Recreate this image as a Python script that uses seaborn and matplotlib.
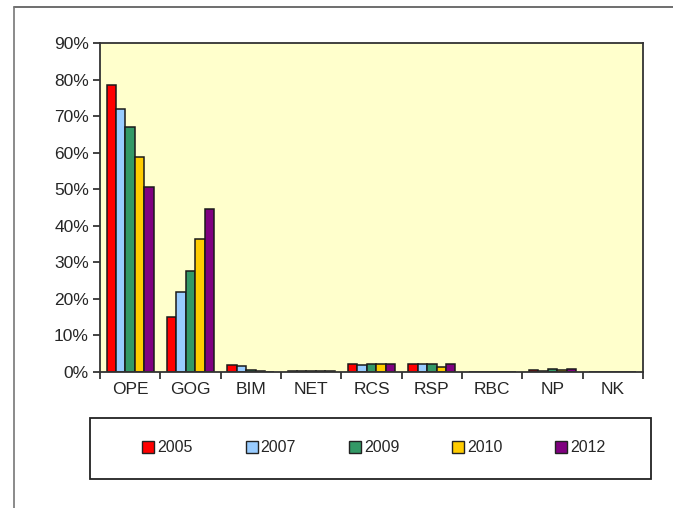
import numpy as np
import pandas as pd
import seaborn as sns
import matplotlib.pyplot as plt
from matplotlib.patches import Patch, Rectangle
from matplotlib.lines import Line2D
from matplotlib.ticker import PercentFormatter, FixedLocator

# Données (en %)
categories = ["OPE", "GOG", "BIM", "NET", "RCS", "RSP", "RBC", "NP", "NK"]
years = ["2005", "2007", "2009", "2010", "2012"]
v2005 = [78.5, 15.1, 1.8, 0.2, 2.1, 2.1, 0.0, 0.5, 0.0]
v2007 = [71.9, 21.8, 1.6, 0.2, 2.0, 2.1, 0.0, 0.4, 0.0]
v2009 = [67.1, 27.7, 0.5, 0.2, 2.1, 2.1, 0.0, 0.8, 0.0]
v2010 = [58.8, 36.5, 0.2, 0.2, 2.1, 1.5, 0.0, 0.5, 0.0]
v2012 = [50.6, 44.6, 0.1, 0.2, 2.1, 2.1, 0.0, 0.8, 0.0]
colors = ["#FF0000", "#99CCFF", "#339966", "#FFCC00", "#800080"]

series = [v2005, v2007, v2009, v2010, v2012]
df = pd.DataFrame({
    "cat": np.tile(categories, len(years)),
    "year": np.repeat(years, len(categories)),
    "val": np.concatenate(series),
})

sns.set_style("white")
plt.rcParams['font.family'] = ['Liberation Sans', 'DejaVu Sans']

fig = plt.figure(figsize=(6.73, 5.08), dpi=100)
W, H = 673, 508
ax = fig.add_axes([100 / W, (H - 372) / H, (643 - 100) / W, (372 - 43) / H])
ax.set_facecolor("#FFFFCC")

sns.barplot(data=df, x="cat", y="val", hue="year", order=categories,
            hue_order=years, palette=colors, saturation=1, edgecolor="#1a1a1a",
            linewidth=1.1, width=0.78, legend=False, ax=ax)

ax.set_ylim(0, 90)
ax.set_xlim(-0.5, len(categories) - 0.5)
ax.set_yticks(np.arange(0, 91, 10))
ax.yaxis.set_major_formatter(PercentFormatter(decimals=0))
ax.set_xlabel("")
ax.set_ylabel("")
ax.xaxis.set_minor_locator(FixedLocator(np.arange(-0.5, len(categories), 1)))
ax.tick_params(axis="x", which="major", length=0, pad=7, labelsize=12.5)
ax.tick_params(axis="x", which="minor", length=5, width=1.2, color="#222222", bottom=True)
ax.tick_params(axis="y", length=5, width=1.2, color="#222222", left=True, labelsize=12.5, pad=3)
for s in ax.spines.values():
    s.set_color("#333333")
    s.set_linewidth(1.3)

# Cadre de la légende
fig.patches.append(Rectangle((90 / W, (H - 479) / H), (651 - 90) / W, 61 / H,
                             transform=fig.transFigure, fill=False,
                             edgecolor="#222222", linewidth=1.3))
handles = [Patch(facecolor=c, edgecolor="#222222", linewidth=1.0) for c in colors]
fig.legend(handles, years, loc="center", bbox_to_anchor=(374 / W, (H - 448) / H),
           ncol=5, frameon=False, fontsize=11.5, handlelength=0.75,
           handleheight=0.75, handletextpad=0.2, columnspacing=3.3)

# Bordure extérieure (haut et gauche)
fig.add_artist(Line2D([14 / W, 1], [(H - 7) / H, (H - 7) / H], color="#555555", linewidth=1.2))
fig.add_artist(Line2D([14 / W, 14 / W], [0, (H - 7) / H], color="#777777", linewidth=1.2))

fig.savefig("out.png", dpi=100)
